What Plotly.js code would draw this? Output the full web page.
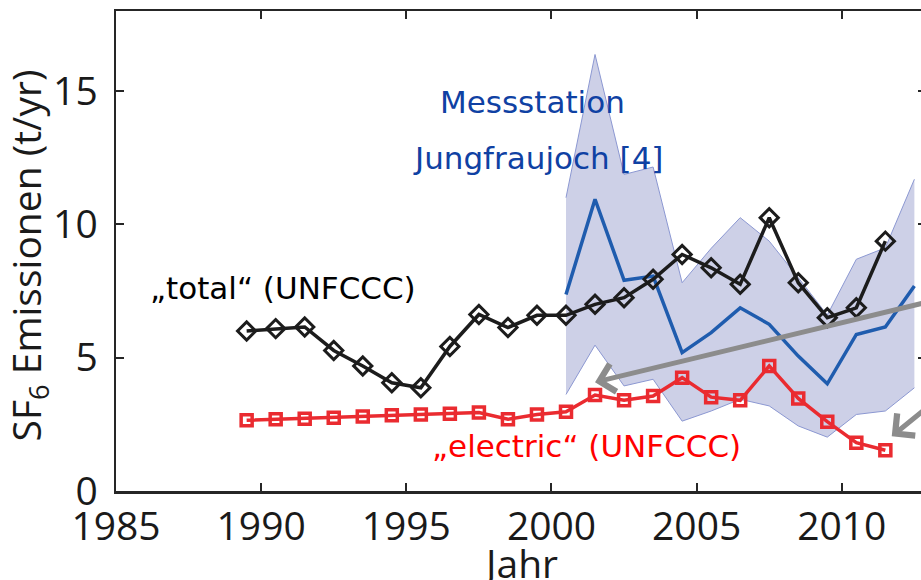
<!DOCTYPE html>
<html>
<head>
<meta charset="utf-8">
<script src="https://cdn.plot.ly/plotly-3.0.1.min.js"></script>
<style>
html,body{margin:0;padding:0;overflow:hidden;background:#fff;}
#chart{width:926px;height:580px;}
</style>
</head>
<body>
<div id="chart"></div>
<script>
// UNFCCC series (plotted at mid-year positions as in the source figure)
const yearsUNFCCC = [1989.5,1990.5,1991.5,1992.5,1993.5,1994.5,1995.5,1996.5,1997.5,1998.5,1999.5,2000.5,2001.5,2002.5,2003.5,2004.5,2005.5,2006.5,2007.5,2008.5,2009.5,2010.5,2011.5];
const totalUNFCCC = [6.0,6.09,6.15,5.27,4.69,4.06,3.87,5.42,6.62,6.13,6.59,6.59,7.0,7.25,7.94,8.87,8.37,7.75,10.25,7.81,6.5,6.87,9.37];
const electricUNFCCC = [2.65,2.69,2.71,2.75,2.79,2.84,2.87,2.9,2.94,2.69,2.87,2.97,3.6,3.4,3.56,4.25,3.52,3.4,4.69,3.47,2.6,1.81,1.53];

// Jungfraujoch measurement-based estimate with uncertainty band
const yearsJFJ = [2000.5,2001.5,2002.5,2003.5,2004.5,2005.5,2006.5,2007.5,2008.5,2009.5,2010.5,2011.5,2012.5];
const jfjMean  = [7.37,10.94,7.9,8.06,5.19,5.94,6.87,6.25,5.06,4.02,5.87,6.15,7.69];
const jfjUpper = [11.0,16.37,11.87,12.15,7.81,9.1,10.25,9.37,8.0,6.6,8.69,9.12,11.69];
const jfjLower = [3.62,5.47,3.94,4.19,2.62,3.0,3.44,3.19,2.44,2.02,2.87,3.0,3.87];

const xTicks = [1985,1990,1995,2000,2005,2010];
const yTicks = [0,5,10,15];

const bandEdge = 'rgb(140,152,210)';
const bandFill = 'rgb(205,208,231)';

const traces = [
  {x: yearsJFJ, y: jfjLower, type:'scatter', mode:'lines',
   line:{color:bandEdge, width:1}, hoverinfo:'skip', showlegend:false},
  {x: yearsJFJ, y: jfjUpper, type:'scatter', mode:'lines', fill:'tonexty',
   fillcolor: bandFill, line:{color:bandEdge, width:1}, hoverinfo:'skip', showlegend:false},
  {x: yearsJFJ, y: jfjMean, type:'scatter', mode:'lines',
   line:{color:'#1f5cae', width:3.5}, showlegend:false},
  {x: yearsUNFCCC, y: totalUNFCCC, type:'scatter', mode:'lines+markers',
   line:{color:'#1c1c1c', width:3.5},
   marker:{symbol:'diamond-open', size:14, color:'#1c1c1c', line:{width:3, color:'#1c1c1c'}},
   showlegend:false},
  {x: yearsUNFCCC, y: electricUNFCCC, type:'scatter', mode:'lines+markers',
   line:{color:'#ea2b30', width:3.5},
   marker:{symbol:'square-open', size:11, color:'#ea2b30', line:{width:3.5, color:'#ea2b30'}},
   showlegend:false}
];

const tickFont = {family:'"Open Sans", "Noto Sans", sans-serif', size:39, color:'#1a1a1a'};
const annFont = 'DejaVu Sans, Verdana, sans-serif';

const layout = {
  width: 926, height: 580,
  margin: {l:116, r:0, t:11, b:89, pad:0},
  paper_bgcolor:'#fff', plot_bgcolor:'#fff',
  showlegend:false,
  xaxis: {
    range:[1985, 2012.9], tickvals: xTicks, ticktext: xTicks.map(String),
    ticks:'inside', ticklen:8, tickwidth:2, tickcolor:'#262626',
    showline:true, linewidth:2.5, linecolor:'#262626', mirror:'ticks',
    showgrid:false, zeroline:false, tickfont: tickFont
  },
  yaxis: {
    range:[0, 18], tickvals: yTicks, ticktext: yTicks.map(String),
    ticks:'inside', ticklen:8, tickwidth:2, tickcolor:'#262626',
    showline:true, linewidth:2.5, linecolor:'#262626', mirror:'ticks',
    showgrid:false, zeroline:false, tickfont: tickFont, ticklabelstandoff: 8
  },
  annotations: [
    {xref:'paper', yref:'paper', x:-0.109, y:0.49, xanchor:'center', yanchor:'middle',
     text:'SF<sub>6</sub> Emissionen (t/yr)', textangle:-90, showarrow:false,
     font:{family:tickFont.family, size:39, color:'#1a1a1a'}},
    {xref:'x', yref:'paper', x:1998.9, y:-0.09, xanchor:'center', yanchor:'top',
     text:'Jahr', showarrow:false, font:{family:tickFont.family, size:39, color:'#1a1a1a'}},
    {xref:'x', yref:'y', x:1999.36, y:14.6, text:'Messstation', showarrow:false,
     font:{family:annFont, size:31, color:'#0f41a3'}},
    {xref:'x', yref:'y', x:1999.53, y:12.5, text:'Jungfraujoch [4]', showarrow:false,
     font:{family:annFont, size:31, color:'#0f41a3'}},
    {xref:'x', yref:'y', x:1990.75, y:7.6, text:'\u201Etotal\u201C (UNFCCC)', showarrow:false,
     font:{family:annFont, size:31, color:'#000'}},
    {xref:'x', yref:'y', x:2001.2, y:1.7, text:'\u201Eelectric\u201C (UNFCCC)', showarrow:false,
     font:{family:annFont, size:31, color:'#ff0000'}},
    {xref:'x', yref:'y', x:2001.5, y:4.08, text:'', showarrow:true,
     axref:'x', ayref:'y', ax:2012.9, ay:7.07,
     arrowhead:4, arrowsize:1.1, arrowwidth:5, arrowcolor:'#8c8c8c'},
    {xref:'x', yref:'y', x:2011.72, y:2.05, text:'', showarrow:true,
     axref:'x', ayref:'y', ax:2012.9, ay:3.1,
     arrowhead:4, arrowsize:1.1, arrowwidth:5, arrowcolor:'#8c8c8c'}
  ]
};

Plotly.newPlot('chart', traces, layout, {displayModeBar:false, staticPlot:true});
</script>
</body>
</html>
